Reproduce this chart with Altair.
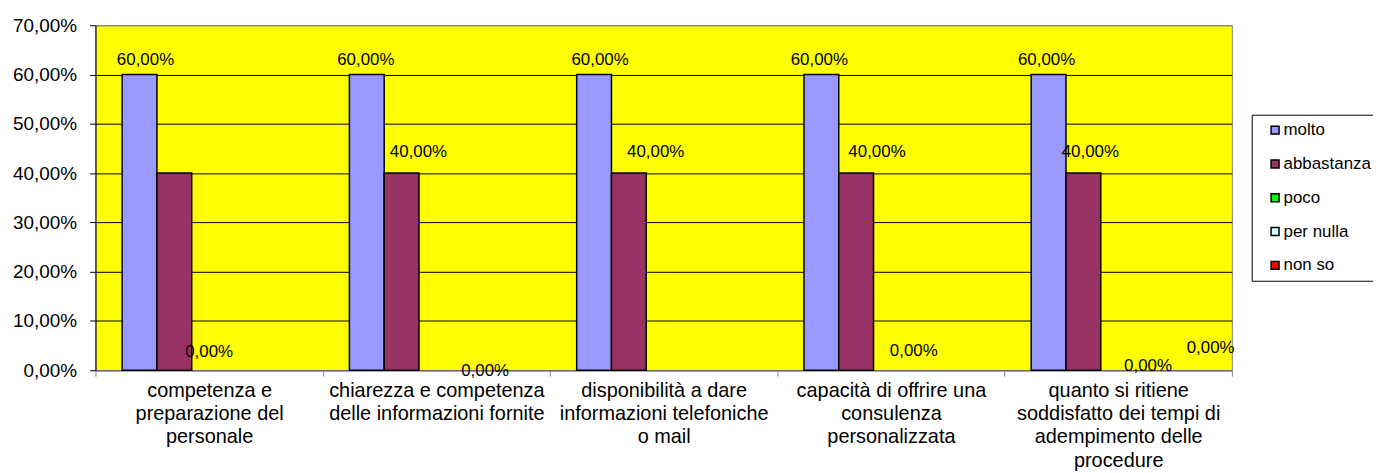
import altair as alt
import pandas as pd

# ---- data -------------------------------------------------------------
categories = [
    "competenza e|preparazione del|personale",
    "chiarezza e competenza|delle informazioni fornite",
    "disponibilità a dare|informazioni telefoniche|o mail",
    "capacità di offrire una|consulenza|personalizzata",
    "quanto si ritiene|soddisfatto dei tempi di|adempimento delle|procedure",
]
series = ["molto", "abbastanza", "poco", "per nulla", "non so"]
molto = [0.60, 0.60, 0.60, 0.60, 0.60]
abbastanza = [0.40, 0.40, 0.40, 0.40, 0.40]
poco = [0.0, 0.0, 0.0, 0.0, 0.0]
per_nulla = [0.0, 0.0, 0.0, 0.0, 0.0]
non_so = [0.0, 0.0, 0.0, 0.0, 0.0]
colors = ["#9999FF", "#993366", "#00FF00", "#CCFFFF", "#FF0000"]

values_by_series = [molto, abbastanza, poco, per_nulla, non_so]
rows = []
for si, s in enumerate(series):
    for ci, c in enumerate(categories):
        rows.append({"cat": c, "ci": ci, "series": s, "value": values_by_series[si][ci]})
df = pd.DataFrame(rows)

# data labels that are shown in the original (category index, series), with
# the manual nudges (dx, dy) the labels had in the source chart
shown_labels = [
    (0, "molto", 6, -10), (1, "molto", -1, -10), (2, "molto", 6, -10),
    (3, "molto", -2, -10), (4, "molto", -2, -10),
    (1, "abbastanza", 17, -16), (2, "abbastanza", 27, -16),
    (3, "abbastanza", 21, -16), (4, "abbastanza", 7, -16),
    (0, "poco", 0, -13), (1, "per nulla", 14, 6), (3, "poco", 23, -14),
    (4, "per nulla", -5, 1), (4, "non so", 23, -17),
]

FONT = "Liberation Sans"

base = alt.Chart(df).encode(
    x=alt.X(
        "cat:N",
        sort=categories,
        scale=alt.Scale(paddingInner=0, paddingOuter=0),
        axis=alt.Axis(
            title=None,
            labelAngle=0,
            labelExpr="split(datum.label, '|')",
            labelFont=FONT,
            labelFontSize=20,
            labelLineHeight=23.5,
            labelColor="#000000",
            labelPadding=4,
            labelLimit=400,
            labelOverlap=False,
            labelBound=False,
            tickBand="extent",
            tickSize=6,
            tickColor="#808080",
            domainColor="#808080",
            grid=False,
        ),
    ),
    xOffset=alt.XOffset(
        "series:N",
        sort=series,
        scale=alt.Scale(domain=series, paddingInner=0, paddingOuter=0.766),
    ),
    y=alt.Y(
        "value:Q",
        scale=alt.Scale(domain=[0, 0.7], nice=False),
        axis=alt.Axis(
            title=None,
            values=[0, 0.1, 0.2, 0.3, 0.4, 0.5, 0.6, 0.7],
            labelExpr="replace(format(datum.value, '.2%'), '.', ',')",
            labelFont=FONT,
            labelFontSize=19,
            labelColor="#000000",
            labelPadding=13,
            tickSize=6,
            tickColor="#000000",
            domainColor="#000000",
            grid=True,
            gridColor={"condition": {"test": "datum.value >= 0.7", "value": "#808080"}, "value": "#000000"},
            gridWidth=1,
        ),
    ),
)

bars = base.mark_bar(stroke="black", strokeWidth=1.5).encode(
    color=alt.Color(
        "series:N",
        sort=series,
        scale=alt.Scale(domain=series, range=colors),
        legend=alt.Legend(
            title=None,
            orient="none",
            legendX=1163,
            legendY=90,
            padding=7,
            strokeColor="black",
            fillColor="white",
            symbolType="square",
            symbolSize=64,
            symbolStrokeColor="black",
            symbolStrokeWidth=1.5,
            symbolOffset=8,
            labelOffset=0,
            labelFont=FONT,
            labelFontSize=17,
            labelColor="#000000",
            rowPadding=16,
        ),
    )
).transform_filter("datum.value > 0")

layers = [bars]
for ci, s, dx, dy in shown_labels:
    t = base.mark_text(
        font=FONT, fontSize=17, color="#000000", baseline="alphabetic",
        align="center", dx=dx, dy=dy,
    ).encode(text="label:N").transform_filter(
        f"datum.ci == {ci} && datum.series == '{s}'"
    ).transform_calculate(
        label="replace(format(datum.value, '.2%'), '.', ',')"
    )
    layers.append(t)

chart = alt.layer(*layers).properties(
    width=1143,
    height=347,
    autosize=alt.AutoSizeParams(type="none"),
    padding={"left": 88, "top": 16, "right": 142, "bottom": 100},
).configure_view(
    fill="#FFFF00", stroke="#808080", strokeWidth=1
)

chart.save("out.html", embed_options={"renderer": "svg", "actions": False})
